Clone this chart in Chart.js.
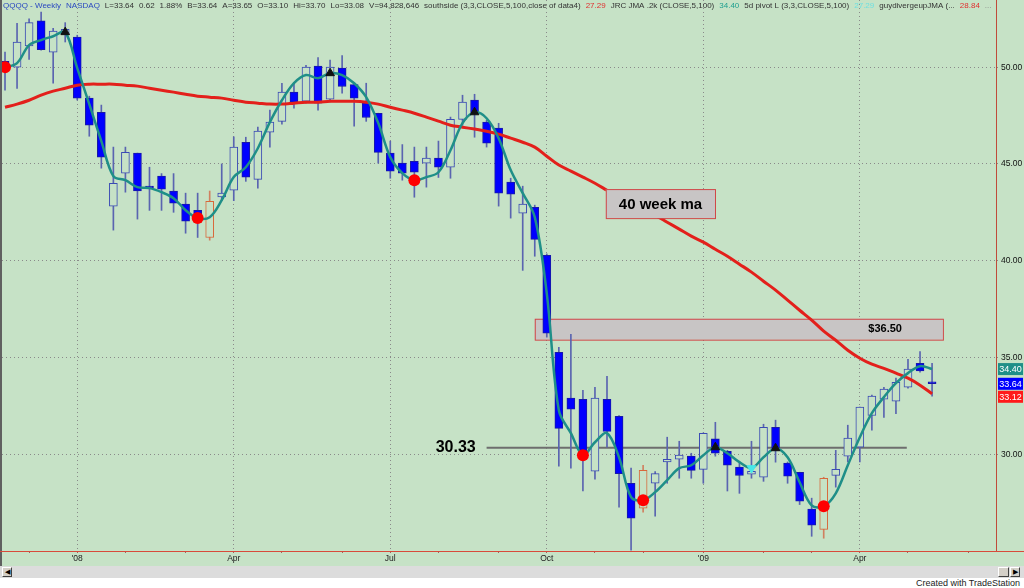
<!DOCTYPE html>
<html>
<head>
<meta charset="utf-8">
<script src="https://cdn.jsdelivr.net/npm/chart.js@4/dist/chart.umd.min.js"></script>
<style>
  body { margin: 0; background: #fff; width: 1024px; height: 588px; overflow: hidden; font-family: "Liberation Sans", Arial, sans-serif; }
  #wrap { position: absolute; left: 0; top: 0; width: 1024px; height: 566px; }
  #sb { position: absolute; left: 0; top: 566px; width: 1024px; height: 12px; background: #dcdcdc; }
  .btn { position: absolute; top: 1px; width: 10px; height: 10px; background: #d4d0c8; border: 1px solid; border-color: #fff #404040 #404040 #fff; box-sizing: border-box; font-size: 7px; line-height: 8px; text-align: center; color: #000; }
  #foot { position: absolute; right: 4px; top: 578px; font-size: 9px; color: #222; }
</style>
</head>
<body>
<div id="wrap"><canvas id="chart" width="1024" height="566"></canvas></div>
<div id="sb">
  <div class="btn" style="left:2px">&#9664;</div>
  <div class="btn" style="left:998px;width:11px"></div>
  <div class="btn" style="left:1010px">&#9654;</div>
</div>
<div id="foot">Created with TradeStation</div>
<script>
// weekly QQQQ bars, Nov 2007 - May 2009
const opens = [50.30, 50.00, 51.10, 52.40, 50.78, 51.70, 51.55, 48.40, 47.67, 42.82,
  44.52, 45.56, 43.85, 44.37, 43.60, 42.92, 42.60, 41.20, 43.30, 43.64,
  46.12, 44.20, 46.64, 47.20, 48.71, 48.24, 50.05, 48.35, 49.95, 49.10,
  48.14, 47.62, 45.56, 45.04, 45.14, 45.04, 45.30, 44.83, 47.30, 48.30,
  47.16, 46.85, 44.06, 42.45, 42.76, 40.28, 35.27, 32.90, 32.84, 29.12,
  32.84, 31.96, 28.50, 27.21, 28.50, 29.60, 29.74, 29.90, 29.22, 30.80,
  30.15, 29.33, 28.97, 28.81, 31.39, 29.54, 29.07, 27.16, 26.12, 28.91,
  29.90, 30.36, 32.00, 32.84, 32.74, 33.46, 34.70, 33.72];
const highs = [50.78, 52.27, 52.50, 52.84, 52.00, 52.30, 51.65, 48.50, 48.04, 45.87,
  45.87, 45.56, 44.83, 44.50, 44.50, 43.49, 43.49, 43.60, 45.00, 46.40,
  46.38, 46.90, 47.78, 49.17, 49.22, 50.10, 50.50, 50.36, 50.60, 49.17,
  49.17, 47.62, 46.18, 46.00, 45.87, 45.87, 46.18, 47.42, 48.55, 48.60,
  47.26, 47.10, 44.26, 43.85, 42.87, 40.35, 35.53, 36.20, 33.30, 33.46,
  34.03, 32.00, 29.28, 29.43, 29.10, 30.88, 30.67, 30.05, 31.10, 31.65,
  30.20, 29.59, 30.67, 31.55, 31.76, 29.60, 29.07, 27.73, 28.81, 30.20,
  31.50, 32.43, 33.05, 33.46, 33.93, 34.90, 35.30, 34.70];
const lows = [48.81, 48.90, 50.40, 50.88, 49.17, 51.30, 48.30, 46.43, 44.78, 41.58,
  43.54, 42.15, 42.60, 42.60, 42.50, 41.42, 41.20, 41.06, 43.10, 43.10,
  44.10, 43.75, 45.87, 47.05, 47.88, 48.14, 47.78, 48.20, 48.65, 46.95,
  47.20, 45.04, 44.26, 44.16, 43.28, 43.80, 44.30, 44.26, 47.00, 46.38,
  45.87, 42.82, 42.20, 39.50, 40.23, 36.05, 29.38, 29.28, 28.10, 28.71,
  30.36, 27.26, 25.04, 27.00, 26.80, 28.50, 28.76, 28.76, 28.50, 29.90,
  28.10, 27.98, 28.76, 28.60, 29.59, 28.50, 27.40, 25.76, 25.66, 28.30,
  29.60, 29.60, 31.24, 31.90, 32.10, 33.41, 34.24, 33.00];
const closes = [49.90, 51.30, 52.30, 50.90, 51.86, 51.95, 48.40, 47.00, 45.35, 44.00,
  45.60, 43.60, 43.75, 43.70, 42.97, 42.04, 42.00, 43.07, 43.50, 45.87,
  44.32, 46.70, 47.16, 48.71, 48.19, 50.00, 48.14, 50.00, 49.00, 48.40,
  47.40, 45.60, 44.63, 44.52, 44.57, 45.30, 44.83, 47.30, 48.20, 47.62,
  46.07, 43.49, 43.44, 42.92, 41.10, 36.25, 31.34, 32.33, 30.00, 32.90,
  31.18, 29.00, 26.70, 29.17, 29.00, 29.74, 29.95, 29.17, 31.08, 30.05,
  29.43, 28.90, 29.12, 31.39, 30.20, 28.86, 27.57, 26.33, 28.76, 29.22,
  30.83, 32.43, 33.00, 33.36, 33.72, 34.40, 34.30, 33.64];

// JRC JMA (teal) and 40 week moving average (red)
const jma = [50.00, 50.21, 51.14, 51.40, 51.60, 51.81, 49.95, 48.09, 46.18, 44.37,
  44.16, 43.80, 43.75, 43.54, 43.23, 42.61, 42.20, 42.25, 43.13, 44.32,
  44.83, 45.81, 47.16, 48.29, 49.17, 49.59, 49.43, 49.69, 49.59, 49.17,
  48.45, 47.11, 45.35, 44.52, 44.16, 44.32, 44.57, 45.71, 47.11, 47.67,
  47.36, 46.33, 44.68, 43.49, 42.25, 38.30, 32.27, 31.09, 29.95, 30.62,
  31.09, 29.84, 27.78, 27.62, 28.04, 28.66, 29.28, 29.43, 29.95, 30.36,
  30.05, 29.59, 29.28, 29.84, 30.31, 29.84, 28.55, 27.36, 27.31, 27.98,
  29.43, 30.88, 32.12, 32.95, 33.67, 34.19, 34.55, 34.40];
const ma40 = [47.93, 48.09, 48.29, 48.55, 48.76, 48.91, 49.07, 49.12, 49.12, 49.12,
  49.07, 49.02, 48.91, 48.81, 48.71, 48.60, 48.50, 48.45, 48.40, 48.29,
  48.19, 48.14, 48.09, 48.09, 48.14, 48.19, 48.19, 48.24, 48.24, 48.24,
  48.19, 48.09, 47.93, 47.78, 47.62, 47.42, 47.21, 47.00, 46.90, 46.80,
  46.69, 46.54, 46.33, 46.12, 45.87, 45.40, 44.94, 44.63, 44.32, 44.00,
  43.64, 43.28, 42.97, 42.66, 42.35, 41.99, 41.63, 41.27, 40.96, 40.59,
  40.23, 39.82, 39.41, 38.94, 38.48, 37.96, 37.44, 36.93, 36.36, 35.89,
  35.37, 34.96, 34.65, 34.44, 34.19, 33.93, 33.57, 33.12];

// marker bars
const pivotLowBars = [0, 16, 34, 48, 53, 68];
const pivotHighBars = [5, 27, 39, 59, 64];
const divergeBars = [62];
const orangeBars = [17, 53, 68];

// x axis: first bar of each month
const monthBars = [2, 6, 10, 15, 19, 23, 28, 32, 36, 41, 45, 49, 53, 58, 63, 67, 71, 75, 80];
const monthLabels = ["", "'08", "", "", "Apr", "", "", "Jul", "", "", "Oct", "", "", "'09", "", "", "Apr", "", ""];
const yTicks = [30, 35, 40, 45, 50];

// drawn notes
const supportLevel = 30.33;
const resistLevel = "$36.50";
const resistBand = [35.92, 37.0];

const GREEN = '#c6e2c6';
const TEAL = '#1f8f88';
const RED = '#e3201b';
const FONT = '"Liberation Sans", Arial, sans-serif';

const xy = arr => arr.map((v, i) => ({ x: i, y: v }));
const at = bars => bars.map(i => ({ x: i, y: jma[i] }));

const bodyFill = closes.map((c, i) => orangeBars.includes(i) ? GREEN : (c >= opens[i] ? GREEN : '#0000ff'));
const bodyEdge = closes.map((c, i) => orangeBars.includes(i) ? '#d8683a' : (c >= opens[i] ? '#3a4ab4' : '#1818a8'));
const wickColor = closes.map((c, i) => orangeBars.includes(i) ? '#d08060' : '#5a64b0');

const header = [
  ["QQQQ - Weekly", '#2a48c0'], ["NASDAQ", '#2a48c0'], ["L=33.64", '#333'], ["0.62", '#333'],
  ["1.88%", '#333'], ["B=33.64", '#333'], ["A=33.65", '#333'], ["O=33.10", '#333'],
  ["Hi=33.70", '#333'], ["Lo=33.08", '#333'], ["V=94,828,646", '#333'],
  ["southside (3,3,CLOSE,5,100,close of data4)", '#333'], ["27.29", '#e03030'],
  ["JRC JMA .2k (CLOSE,5,100)", '#333'], ["34.40", '#20a090'],
  ["5d pivot L (3,3,CLOSE,5,100)", '#333'], ["27.29", '#70e0e0'],
  ["guydivergeupJMA (...", '#333'], ["28.84", '#e03030'], ["...", '#888']
];

const decor = {
  id: 'decor',
  beforeDraw(chart) {
    const c = chart.ctx;
    c.save();
    c.fillStyle = GREEN;
    c.fillRect(0, 0, chart.width, chart.height);
    c.fillStyle = '#606060';
    c.fillRect(0, 0, 2, chart.height);
    c.restore();
  },
  beforeDatasetsDraw(chart) {
    const c = chart.ctx, x = chart.scales.x, y = chart.scales.y;
    c.save();
    // $36.50 band
    const bx1 = x.getPixelForValue(44.0), bx2 = x.getPixelForValue(77.9);
    const by1 = y.getPixelForValue(resistBand[1]), by2 = y.getPixelForValue(resistBand[0]);
    c.fillStyle = '#c8c5c5';
    c.fillRect(bx1, by1, bx2 - bx1, by2 - by1);
    c.strokeStyle = '#d04848';
    c.lineWidth = 1;
    c.strokeRect(bx1 + 0.5, by1 + 0.5, bx2 - bx1, by2 - by1);
    c.fillStyle = '#000';
    c.font = 'bold 11px ' + FONT;
    c.textAlign = 'center';
    c.textBaseline = 'middle';
    c.fillText(resistLevel, x.getPixelForValue(73.1), (by1 + by2) / 2);
    // 30.33 line
    const ly = y.getPixelForValue(supportLevel);
    c.strokeStyle = '#6e6e6e';
    c.lineWidth = 2;
    c.beginPath();
    c.moveTo(x.getPixelForValue(40.0), ly);
    c.lineTo(x.getPixelForValue(74.9), ly);
    c.stroke();
    c.font = 'bold 16px ' + FONT;
    c.textAlign = 'right';
    c.fillText(supportLevel.toFixed(2), x.getPixelForValue(39.1), ly);
    c.restore();
  },
  afterDatasetsDraw(chart) {
    const c = chart.ctx, x = chart.scales.x, y = chart.scales.y;
    c.save();
    const x1 = x.getPixelForValue(49.9), x2 = x.getPixelForValue(58.97);
    const y1 = y.getPixelForValue(43.7), y2 = y.getPixelForValue(42.2);
    c.fillStyle = '#c8c5c5';
    c.fillRect(x1, y1, x2 - x1, y2 - y1);
    c.strokeStyle = '#d04848';
    c.lineWidth = 1;
    c.strokeRect(x1 + 0.5, y1 + 0.5, x2 - x1, y2 - y1);
    c.fillStyle = '#000';
    c.font = 'bold 15px ' + FONT;
    c.textAlign = 'left';
    c.textBaseline = 'middle';
    c.fillText('40 week ma', x1 + 13, (y1 + y2) / 2 + 1);
    c.restore();
  },
  afterDraw(chart) {
    const c = chart.ctx, y = chart.scales.y, area = chart.chartArea;
    c.save();
    // axis line runs full width
    c.strokeStyle = '#d84a3a';
    c.lineWidth = 1;
    c.beginPath();
    c.moveTo(0, area.bottom + 0.5);
    c.lineTo(chart.width, area.bottom + 0.5);
    c.stroke();
    // last value badges
    const last = closes.length - 1;
    const badges = [[jma[last], TEAL], [closes[last], '#0000ff'], [ma40[last], '#ff1a1a']];
    let prev = -100;
    c.font = '9px ' + FONT;
    c.textAlign = 'center';
    c.textBaseline = 'middle';
    badges.forEach(([v, col]) => {
      let py = y.getPixelForValue(v);
      if (py < prev + 13) py = prev + 13;
      prev = py;
      c.fillStyle = col;
      c.fillRect(area.right + 2, py - 6, 25, 12);
      c.fillStyle = '#fff';
      c.fillText(v.toFixed(2), area.right + 14.5, py + 0.5);
    });
    // header line
    c.font = '8px ' + FONT;
    c.textAlign = 'left';
    c.textBaseline = 'top';
    let hx = 3;
    header.forEach(([t, col]) => {
      c.fillStyle = col;
      c.fillText(t, hx, 2);
      hx += c.measureText(t).width + 5;
    });
    c.restore();
  }
};

new Chart(document.getElementById('chart'), {
  type: 'bar',
  data: {
    datasets: [
      { type: 'line', label: 'pivot high', data: at(pivotHighBars), showLine: false,
        pointStyle: 'triangle', pointRadius: 5, pointBackgroundColor: '#111', pointBorderColor: '#111', order: 0 },
      { type: 'line', label: 'diverge', data: at(divergeBars), showLine: false,
        pointStyle: 'triangle', pointRotation: 180, pointRadius: 5, pointBackgroundColor: '#48e8e8', pointBorderColor: '#48e8e8', order: 0 },
      { type: 'line', label: 'pivot low', data: at(pivotLowBars), showLine: false,
        pointStyle: 'circle', pointRadius: 6, pointBackgroundColor: '#ff0000', pointBorderWidth: 0, order: 0 },
      { type: 'line', label: 'JRC JMA', data: xy(jma), borderColor: TEAL, borderWidth: 2.5,
        pointRadius: 0, tension: 0.35, order: 1 },
      { type: 'line', label: '40 week ma', data: xy(ma40), borderColor: RED, borderWidth: 3,
        pointRadius: 0, tension: 0.35, order: 2 },
      { type: 'bar', label: 'body', data: opens.map((o, i) => ({ x: i, y: [o, closes[i]] })),
        barThickness: 8, grouped: false, backgroundColor: bodyFill, borderColor: bodyEdge,
        borderWidth: 1, borderSkipped: false, minBarLength: 2, order: 3 },
      { type: 'bar', label: 'wick', data: lows.map((l, i) => ({ x: i, y: [l, highs[i]] })),
        barThickness: 1, grouped: false, backgroundColor: wickColor, order: 4 }
    ]
  },
  options: {
    responsive: false,
    animation: false,
    events: [],
    layout: { autoPadding: false, padding: { left: 2, top: 0, right: 0, bottom: 0 } },
    plugins: { legend: { display: false }, tooltip: { enabled: false } },
    scales: {
      x: {
        type: 'linear', min: -0.25, max: 82.31, offset: false,
        afterBuildTicks: s => { s.ticks = monthBars.map(v => ({ value: v })); },
        afterFit: s => { s.height = 15; s.paddingLeft = 0; s.paddingRight = 0; },
        ticks: { autoSkip: false, maxRotation: 0, padding: 1, color: '#222',
          font: { size: 8.5, family: FONT },
          callback: (v, i) => monthLabels[i] },
        grid: { offset: false,
          color: ctx => (ctx.tick && monthLabels[monthBars.indexOf(ctx.tick.value)]) ? '#8a8a8a' : 'rgba(0,0,0,0)',
          tickColor: '#a06060', tickLength: 2 },
        border: { color: '#d84a3a', width: 1, dash: [1, 3] }
      },
      y: {
        position: 'right', min: 25, max: 53.47,
        afterBuildTicks: s => { s.ticks = yTicks.map(v => ({ value: v })); },
        afterFit: s => { s.width = 28; s.paddingTop = 0; s.paddingBottom = 0; },
        ticks: { padding: 1, color: '#111', font: { size: 8.5, family: FONT },
          callback: v => v.toFixed(2) },
        grid: { color: '#8a8a8a', tickColor: '#8a8a8a', tickLength: 4, tickBorderDash: [1, 2] },
        border: { color: '#c04a3a', width: 1, dash: [1, 3] }
      }
    }
  },
  plugins: [decor]
});
</script>
</body>
</html>
